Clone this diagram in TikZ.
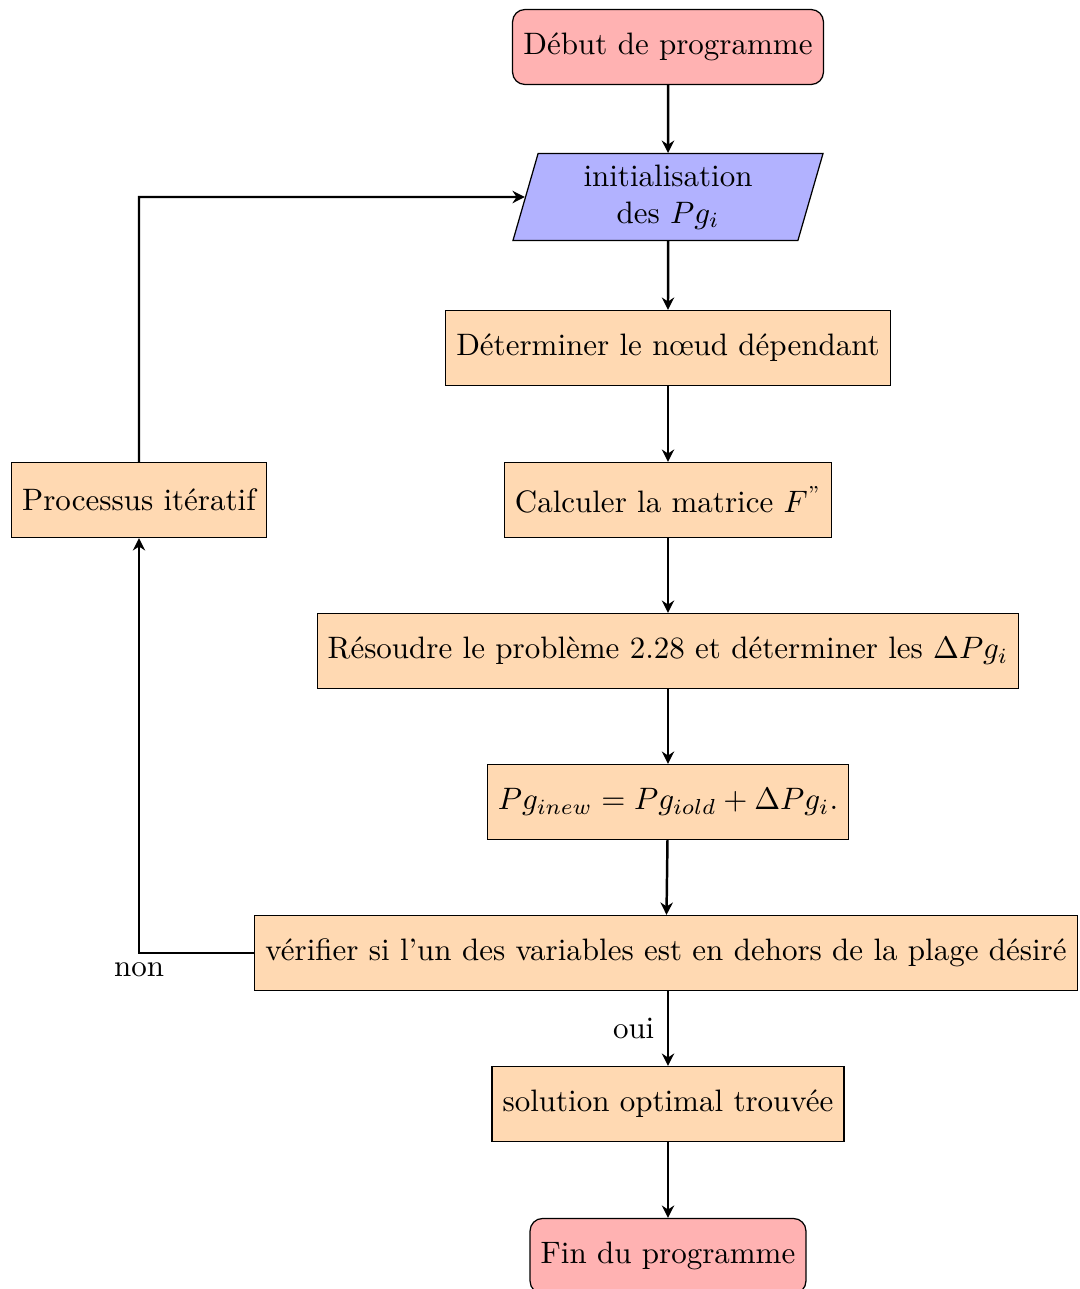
\documentclass[tikz,border=0pt]{standalone}
\usepackage{amsmath}
\usetikzlibrary{shapes.geometric,arrows.meta}
\begin{document}
\begin{tikzpicture}[x=0.3226pt,y=-0.3226pt,
  proc/.style={draw, fill=orange!30, minimum height=24.2pt, inner sep=3.4pt},
  term/.style={draw, fill=red!30, rounded corners=4pt, minimum height=24.2pt, minimum width=100.3pt, inner sep=3.4pt},
  io/.style={draw, fill=blue!30, trapezium, trapezium left angle=72, trapezium right angle=108, trapezium stretches body, minimum width=100pt, minimum height=28pt, align=center, inner sep=2pt},
  conn/.style={draw, thick, -{Stealth[length=4pt,width=4pt]}},
  lbl/.style={inner sep=0pt}]
\useasboundingbox (0,0) rectangle (1079,1289);
\node[term] (debut) at (668,47) {Début de programme};
\node[io] (init) at (668,197) {initialisation\\des $Pg_i$};
\node[proc] (det) at (668,348) {Déterminer le nœud dépendant};
\node[proc] (calc) at (668,500) {Calculer la matrice $F^{\text{''}}$};
\node[proc] (res) at (668,651) {Résoudre le problème 2.28 et déterminer les $\Delta Pg_i$};
\node[proc] (pg) at (668,802) {$Pg_{inew} = Pg_{iold} + \Delta Pg_i.$};
\node[proc] (verif) at (666,953) {vérifier si l’un des variables est en dehors de la plage désiré};
\node[proc] (sol) at (668,1104) {solution optimal trouvée};
\node[term, minimum width=89pt] (fin) at (668,1256) {Fin du programme};
\node[proc] (iter) at (139,500) {Processus itératif};
\coordinate (c1) at (139,953);
\coordinate (c2) at (139,197);
\draw[conn] (debut) -- (init);
\draw[conn] (init) -- (det);
\draw[conn] (det) -- (calc);
\draw[conn] (calc) -- (res);
\draw[conn] (res) -- (pg);
\draw[conn] (pg) -- (verif);
\draw[conn] (verif.south -| sol.north) -- node[lbl, left=4pt] {oui} (sol);
\draw[conn] (sol) -- (fin);
\draw[conn] (verif.west) -- (c1) -- (iter.south);
\draw[conn] (iter.north) -- (c2) -- (init.west);
\node[lbl] (non) at (139,970) {non};
\end{tikzpicture}
\end{document}
